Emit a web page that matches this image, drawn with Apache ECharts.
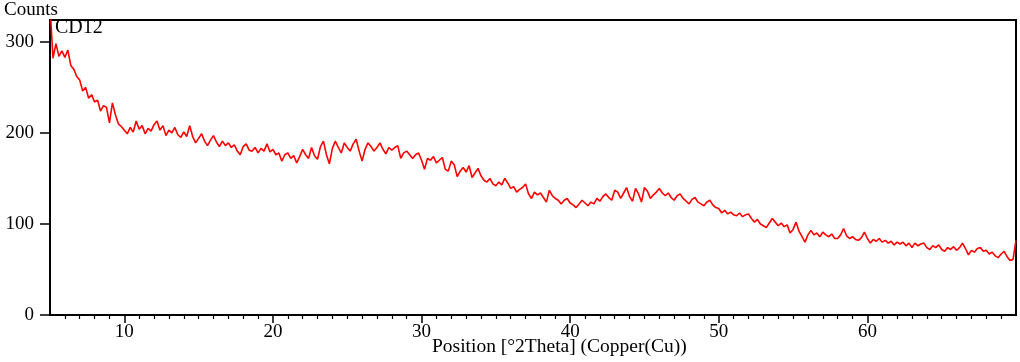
<!DOCTYPE html>
<html>
<head>
<meta charset="utf-8">
<script src="https://cdn.jsdelivr.net/npm/echarts@6/dist/echarts.min.js"></script>
<style>
html,body{margin:0;padding:0;background:#fff;}
#chart{width:1020px;height:362px;}
</style>
</head>
<body>
<div id="chart"></div>
<script>
// Scan: 2Theta from 5.0 to 70.0 deg, step 0.2 deg
const scanStart = 5.0;
const scanStep = 0.2;
const counts = [
  340,282,298,284,290,283,291,274,270,262,
  258,246,250,238,242,234,236,224,230,228,
  211,233,220,210,207,203,199,206,201,213,
  204,208,199,205,202,209,213,203,208,197,
  203,200,206,198,195,201,196,208,196,189,
  194,199,191,186,192,197,190,185,191,186,
  189,184,187,180,176,185,188,181,180,184,
  178,183,180,188,179,182,176,178,169,176,
  178,172,175,167,174,182,176,172,184,175,
  171,185,191,176,166,183,191,184,178,189,
  184,180,188,193,180,169,182,189,185,180,
  184,189,182,177,184,181,184,186,172,178,
  180,176,172,176,178,170,160,172,170,174,
  167,170,173,160,158,169,165,152,158,162,
  157,164,151,156,161,153,148,146,150,144,
  142,146,143,150,145,139,141,135,138,140,
  144,133,128,135,132,134,129,124,137,131,
  128,126,122,126,128,123,121,118,122,126,
  123,120,124,122,128,125,130,133,129,126,
  137,135,128,134,140,130,125,139,133,124,
  140,136,128,132,135,139,134,131,134,129,
  126,131,133,128,125,122,127,129,124,122,
  120,124,126,121,118,117,112,115,111,113,
  110,109,112,108,110,111,106,102,105,100,
  98,96,101,106,102,98,101,97,99,90,
  94,102,92,86,80,88,93,88,90,86,
  91,88,86,89,84,84,88,95,87,84,
  86,83,82,85,91,84,79,83,81,84,
  80,82,79,81,77,80,78,80,76,79,
  74,79,76,78,79,74,72,76,74,77,
  72,70,74,72,75,71,74,79,73,66,
  71,69,73,74,70,71,67,69,65,63,
  67,70,64,60,61,
  82
];
const xMajorTicks = [10, 20, 30, 40, 50, 60];
const xMinorTicks = [6,7,8,9,11,12,13,14,15,16,17,18,19,21,22,23,24,25,26,27,28,29,
  31,32,33,34,35,36,37,38,39,41,42,43,44,45,46,47,48,49,51,52,53,54,55,56,57,58,59,
  61,62,63,64,65,66,67,68,69];
const yTicks = [0, 100, 200, 300];
const xRange = [5, 70];
const yRange = [0, 324];
const sampleName = 'CD12';
const yTitle = 'Counts';
const xTitle = 'Position [°2Theta] (Copper(Cu))';

const points = counts.map((c, i) => [+(scanStart + i * scanStep).toFixed(2), c]);

const FONT = 'Liberation Serif';
const chart = echarts.init(document.getElementById('chart'), null, {renderer: 'canvas'});
chart.setOption({
  animation: false,
  backgroundColor: '#fff',
  grid: {left: 50, right: 4, top: 20, bottom: 47, show: true, borderColor: '#000', borderWidth: 2, backgroundColor: 'transparent'},
  xAxis: [
    {
      type: 'value', min: xRange[0], max: xRange[1], position: 'bottom',
      axisLine: {show: true, lineStyle: {color: '#000', width: 2}},
      axisTick: {show: true, customValues: xMajorTicks, length: 8, inside: false, lineStyle: {color: '#000', width: 1.5}},
      axisLabel: {show: true, customValues: xMajorTicks, margin: 8, color: '#000', fontFamily: FONT, fontSize: 19},
      splitLine: {show: false}
    },
    {
      type: 'value', min: xRange[0], max: xRange[1], position: 'bottom', offset: 0,
      axisLine: {show: false},
      axisTick: {show: true, customValues: xMinorTicks, length: 4, lineStyle: {color: '#000', width: 1.2}},
      axisLabel: {show: false},
      splitLine: {show: false}
    }
  ],
  yAxis: {
    type: 'value', min: yRange[0], max: yRange[1],
    axisLine: {show: true, lineStyle: {color: '#000', width: 2}},
    axisTick: {show: true, customValues: yTicks, length: 10, lineStyle: {color: '#000', width: 1.5}},
    axisLabel: {show: true, customValues: yTicks, margin: 16, color: '#000', fontFamily: FONT, fontSize: 19},
    splitLine: {show: false}
  },
  series: [{
    type: 'line', xAxisIndex: 0, yAxisIndex: 0,
    data: points, showSymbol: false, symbol: 'none', clip: true,
    lineStyle: {color: '#ff0000', width: 1.6}
  }],
  graphic: [
    {type: 'text', left: 4, top: 1, style: {text: yTitle, font: '19px "Liberation Serif"', fill: '#000'}},
    {type: 'text', left: 55, top: 18, style: {text: sampleName, font: '20px "Liberation Serif"', fill: '#000'}},
    {type: 'text', left: 432, top: 337, style: {text: xTitle, font: '19.5px "Liberation Serif"', fill: '#000'}}
  ]
});
</script>
</body>
</html>
